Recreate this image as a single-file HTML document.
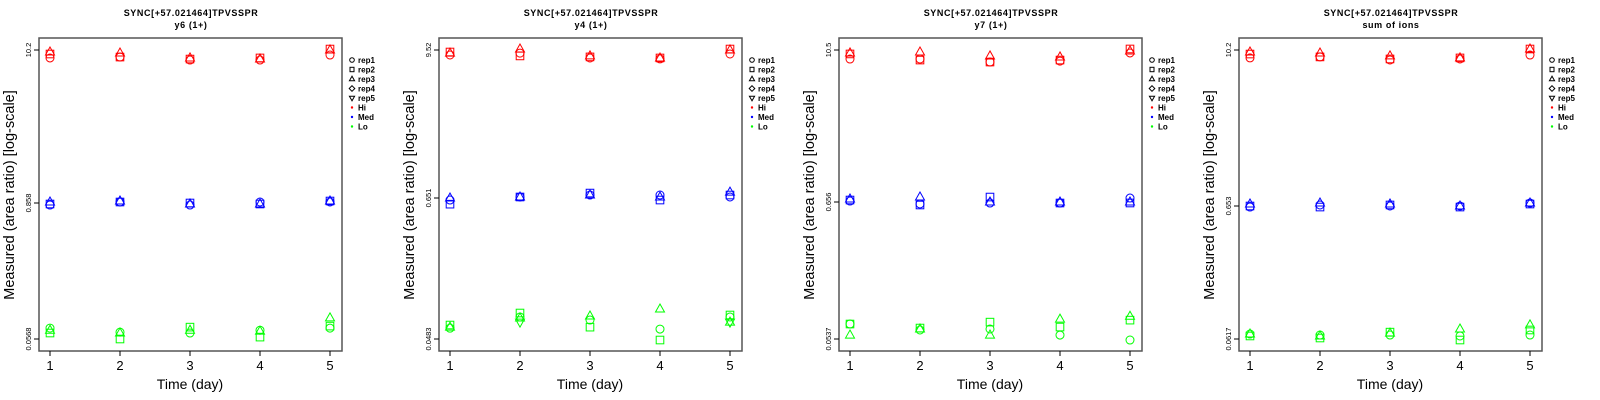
<!DOCTYPE html>
<html><head><meta charset="utf-8">
<style>
body{margin:0;background:#fff;}
svg{display:block;font-family:"Liberation Sans",sans-serif;}
</style></head>
<body>
<svg id="chart" width="1600" height="400" viewBox="0 0 1600 400"></svg>
<script>
const days = [1,2,3,4,5];
const reps = ["rep1","rep2","rep3","rep4","rep5"];
const levels = ["Hi","Med","Lo"];
const panelTitles = ["y6 (1+)","y4 (1+)","y7 (1+)","sum of ions"];
const peptide = "SYNC[+57.021464]TPVSSPR";
const tickLabels1 = ["10.2","0.858","0.0568"];
const tickLabels2 = ["9.52","0.651","0.0483"];
const tickLabels3 = ["10.5","0.656","0.0537"];
const tickLabels4 = ["10.2","0.653","0.0617"];
const tickVals1 = [10.2,0.858,0.0568];
const tickVals2 = [9.52,0.651,0.0483];
const tickVals3 = [10.5,0.656,0.0537];
const tickVals4 = [10.2,0.653,0.0617];
// values[day][rep]; null = no measurement
const hi1 = [[8.97,9.56,9.88,null,null],[9.1,9.1,9.72,null,null],[8.67,8.81,8.97,null,null],[8.67,8.97,8.81,null,null],[9.4,10.36,10.2,null,null]];
const med1 = [[0.824,0.841,0.872,null,null],[0.872,0.872,0.886,null,null],[0.824,0.858,0.841,null,null],[0.872,0.841,0.841,null,null],[0.872,0.886,0.886,null,null]];
const lo1 = [[0.0706,0.064,0.0677,null,null],[0.0651,0.0568,0.064,null,null],[0.064,0.072,0.0677,null,null],[0.0677,0.059,0.0664,null,null],[0.0706,0.0735,0.0866,null,null]];
const hi2 = [[8.7,9.18,9.0,null,null],[9.0,8.55,9.69,null,null],[8.24,8.4,8.55,null,null],[8.1,8.24,8.24,null,null],[8.86,9.69,9.52,null,null]];
const med2 = [[0.627,0.581,0.651,null,null],[0.663,0.663,0.663,null,null],[0.687,0.712,0.687,null,null],[0.687,0.627,0.663,null,null],[0.663,0.687,0.724,null,null]];
const lo2 = [[0.059,0.0625,0.0601,null,null],[0.0725,0.078,0.0712,null,0.066],[0.0685,0.0601,0.0738,null,null],[0.058,0.0474,0.084,null,null],[0.0725,0.0752,0.066,null,0.066]];
const hi3 = [[8.9,9.77,9.95,null,null],[8.9,8.74,10.13,null,null],[8.43,8.43,9.42,null,null],[8.58,8.74,9.25,null,null],[9.95,10.7,10.31,null,null]];
const med3 = [[0.668,0.68,0.693,null,null],[0.633,0.621,0.718,null,null],[0.644,0.718,0.656,null,null],[0.644,0.644,0.656,null,null],[0.705,0.644,0.656,null,null]];
const lo3 = [[0.0706,0.0706,0.0577,null,null],[0.0633,0.0656,0.0645,null,null],[0.0645,0.0731,0.0577,null,null],[0.0577,0.0668,0.0772,null,null],[0.0527,0.0758,0.0814,null,null]];
const hi4 = [[8.87,9.5,9.85,null,null],[9.03,9.03,9.67,null,null],[8.56,8.71,9.2,null,null],[8.71,8.87,8.87,null,null],[9.33,10.38,10.38,null,null]];
const med4 = [[0.641,0.653,0.676,null,null],[0.665,0.641,0.688,null,null],[0.653,0.665,0.676,null,null],[0.653,0.641,0.653,null,null],[0.688,0.676,0.688,null,null]];
const lo4 = [[0.0674,0.0651,0.0674,null,null],[0.0662,0.0628,0.0651,null,null],[0.0662,0.0697,0.0685,null,null],[0.0651,0.0606,0.0737,null,null],[0.0662,0.0724,0.0792,null,null]];

const panels = [
 {tl:tickLabels1,tv:tickVals1,mid:203,data:[hi1,med1,lo1]},
 {tl:tickLabels2,tv:tickVals2,mid:198,data:[hi2,med2,lo2]},
 {tl:tickLabels3,tv:tickVals3,mid:202,data:[hi3,med3,lo3]},
 {tl:tickLabels4,tv:tickVals4,mid:206,data:[hi4,med4,lo4]}
];
const colors = ["#ff0000","#0000ff","#00ff00"];
const NS = "http://www.w3.org/2000/svg";
const svg = document.getElementById("chart");
function mk(tag, attrs, parent){const e=document.createElementNS(NS,tag);for(const k in attrs)e.setAttribute(k,attrs[k]);(parent||svg).appendChild(e);return e;}

function marker(g, shape, x, y, color){
  let e;
  const r=4;
  if(shape===0){e=mk("circle",{cx:x,cy:y,r:r,fill:"none",stroke:color,"stroke-width":1},g);}
  else if(shape===1){e=mk("rect",{x:x-3.8,y:y-3.8,width:7.6,height:7.6,fill:"none",stroke:color,"stroke-width":1},g);}
  else if(shape===2){e=mk("polygon",{points:`${x},${y-5} ${x-4.5},${y+3} ${x+4.5},${y+3}`,fill:"none",stroke:color,"stroke-width":1},g);}
  else if(shape===3){e=mk("polygon",{points:`${x},${y-5} ${x+5},${y} ${x},${y+5} ${x-5},${y}`,fill:"none",stroke:color,"stroke-width":1},g);}
  else {e=mk("polygon",{points:`${x},${y+5} ${x-4.5},${y-3} ${x+4.5},${y-3}`,fill:"none",stroke:color,"stroke-width":1},g);}
  return e;
}

panels.forEach((p,pi)=>{
  const ox = pi*400;
  const g = mk("g",{});
  
  
  const xS = d => ox + 50 + (d-1)*70;
  const yTop=50, yBot=339, yMid=p.mid;
  const lt=Math.log(p.tv[0]), lm=Math.log(p.tv[1]), lb=Math.log(p.tv[2]);
  const yS = v => {const l=Math.log(v); return l>=lm ? yMid-(l-lm)/(lt-lm)*(yMid-yTop) : yMid+(lm-l)/(lm-lb)*(yBot-yMid);};
  let t=mk("text",{x:ox+191,y:16,"text-anchor":"middle","font-size":9,"font-weight":"bold","letter-spacing":0.6,fill:"#000"},g);t.textContent=peptide;
  
  t=mk("text",{x:ox+191,y:28,"text-anchor":"middle","font-size":9,"font-weight":"bold","letter-spacing":0.6,fill:"#000"},g);t.textContent=panelTitles[pi];
  
  const box=mk("rect",{x:ox+39,y:38,width:303,height:313,fill:"none",stroke:"#555","stroke-width":1.5},g);
  
  p.tv.forEach((v,i)=>{
    const y=yS(v);
    mk("line",{x1:ox+34,x2:ox+39,y1:y,y2:y,stroke:"#000","stroke-width":1},g);
    const tx=mk("text",{x:0,y:0,"text-anchor":"middle","font-size":7.5,fill:"#000",transform:`translate(${ox+31},${y}) rotate(-90)`},g);
    tx.textContent=p.tl[i];
    
  });
  days.forEach(d=>{
    const x=xS(d);
    mk("line",{x1:x,x2:x,y1:351,y2:356,stroke:"#000","stroke-width":1},g);
    const tx=mk("text",{x:x,y:370,"text-anchor":"middle","font-size":13,fill:"#000"},g);tx.textContent=d;
    
  });
  t=mk("text",{x:ox+190,y:389,"text-anchor":"middle","font-size":14,fill:"#000"},g);t.textContent="Time (day)";
  
  t=mk("text",{x:0,y:0,"text-anchor":"middle","font-size":14.5,fill:"#000",transform:`translate(${ox+14},195) rotate(-90)`},g);t.textContent="Measured (area ratio) [log-scale]";
  
  p.data.forEach((lv,li)=>{
    lv.forEach((dayVals,di)=>{
      dayVals.forEach((v,ri)=>{
        if(v===null) return;
        const m=marker(g,ri,xS(days[di]),yS(v),colors[li]);
        
        
      });
    });
  });
  const lg=mk("g",{},g);
  
  const items=reps.concat(levels);
  items.forEach((name,i)=>{
    const y=60+i*9.5;
    const ent=mk("g",{},lg);
    
    
    const lx=ox+352;
    if(i<5){
      const s=i;
      if(s===0)mk("circle",{cx:lx,cy:y,r:2.3,fill:"none",stroke:"#000","stroke-width":1},ent);
      else if(s===1)mk("rect",{x:lx-2,y:y-2.2,width:4,height:4.4,fill:"none",stroke:"#000","stroke-width":1},ent);
      else if(s===2)mk("polygon",{points:`${lx},${y-2.8} ${lx-2.6},${y+1.8} ${lx+2.6},${y+1.8}`,fill:"none",stroke:"#000","stroke-width":1},ent);
      else if(s===3)mk("polygon",{points:`${lx},${y-2.8} ${lx+2.8},${y} ${lx},${y+2.8} ${lx-2.8},${y}`,fill:"none",stroke:"#000","stroke-width":1},ent);
      else mk("polygon",{points:`${lx},${y+2.8} ${lx-2.6},${y-1.8} ${lx+2.6},${y-1.8}`,fill:"none",stroke:"#000","stroke-width":1},ent);
    } else {
      mk("circle",{cx:lx,cy:y,r:1.2,fill:colors[i-5]},ent);
    }
    const tx=mk("text",{x:ox+358,y:y+3,"font-size":8,"font-weight":"bold",fill:"#000"},ent);
    tx.textContent=name;
  });
});
</script>
</body></html>
